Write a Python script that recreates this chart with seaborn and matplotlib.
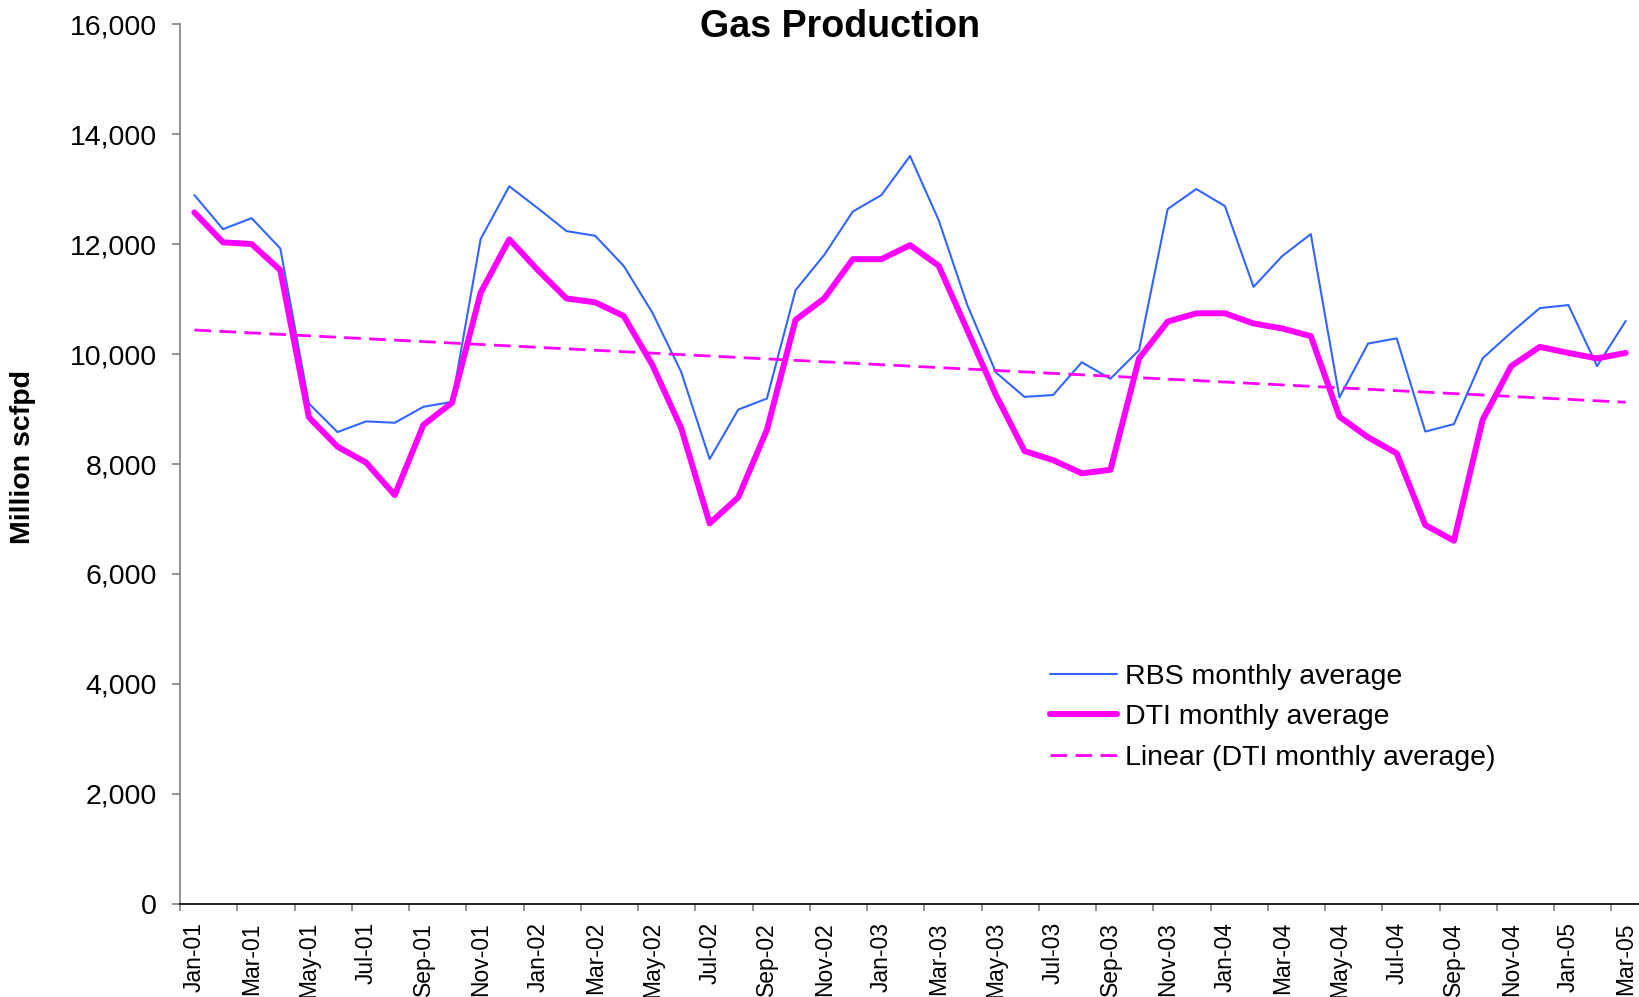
import numpy as np
import pandas as pd
import matplotlib
matplotlib.use("Agg")
import matplotlib.pyplot as plt
import seaborn as sns

# monthly data Jan-01 .. Mar-05
months = pd.date_range("2001-01-01", "2005-03-01", freq="MS")
month_labels = [d.strftime("%b-%y") for d in months]

rbs = [12890, 12270, 12470, 11920, 9100, 8580, 8775, 8750, 9040, 9130,
       12090, 13050, 12650, 12235, 12150, 11600, 10750, 9680, 8090, 8990,
       9190, 11160, 11800, 12590, 12890, 13600, 12435, 10890, 9665, 9220,
       9255, 9850, 9550, 10070, 12635, 13000, 12690, 11220, 11780, 12180,
       9210, 10190, 10285, 8590, 8725, 9920, 10390, 10835, 10890, 9780,
       10600]

dti = [12575, 12030, 12000, 11525, 8850, 8315, 8025, 7435, 8710, 9115,
       11115, 12085, 11525, 11010, 10940, 10690, 9800, 8660, 6920, 7395,
       8620, 10620, 11010, 11725, 11725, 11980, 11605, 10435, 9255, 8235,
       8070, 7830, 7895, 9920, 10590, 10740, 10740, 10555, 10465, 10325,
       8860, 8485, 8195, 6890, 6605, 8800, 9780, 10130, 10020, 9920,
       10020]

df = pd.DataFrame({"idx": np.arange(len(months)), "RBS": rbs, "DTI": dti})

sns.set_theme(style="white")
plt.rcParams["font.family"] = ["Liberation Sans", "DejaVu Sans"]
plt.rcParams["text.color"] = "black"
plt.rcParams["axes.labelcolor"] = "black"
plt.rcParams["xtick.color"] = "black"
plt.rcParams["ytick.color"] = "black"

fig = plt.figure(figsize=(16.4, 9.97), dpi=100)
ax = fig.add_axes([0.1098, 0.0933, 0.8902, 0.8826])

sns.lineplot(data=df, x="idx", y="RBS", ax=ax, color="#3366FF", lw=1.5,
             label="RBS monthly average")
sns.lineplot(data=df, x="idx", y="DTI", ax=ax, color="#FF00FF", lw=4.3,
             label="DTI monthly average", solid_capstyle="round",
             solid_joinstyle="round")
# Excel-style linear trendline of the DTI series
sns.regplot(data=df, x="idx", y="DTI", ax=ax, scatter=False, ci=None,
            truncate=True, label="Linear (DTI monthly average)",
            line_kws=dict(color="#FF00FF", lw=2, dashes=(6, 3)))

ax.set_xlim(-0.5, len(months) - 0.5)
ax.set_ylim(0, 16000)
ax.set_yticks(range(0, 16001, 2000))
ax.yaxis.set_major_formatter(matplotlib.ticker.StrMethodFormatter("{x:,.0f}"))
ax.tick_params(axis="y", labelsize=20.5, length=6, width=1.2, pad=10.5,
               left=True, labelcolor="black", color="#808080")

# category axis: tick marks between every other month, labels on the months
ax.set_xticks(np.arange(-0.5, len(months), 2))
ax.set_xticklabels([])
ax.set_xticks(np.arange(0, len(months), 2), minor=True)
ax.set_xticklabels(month_labels[::2], minor=True, rotation=90, fontsize=16.5)
ax.tick_params(axis="x", which="major", length=5, width=1.2, bottom=True,
               color="#808080")
ax.tick_params(axis="x", which="minor", length=0, pad=13, bottom=True)

ax.set_xlabel("")
ax.set_ylabel("")
for s in ["top", "right"]:
    ax.spines[s].set_visible(False)
ax.spines["left"].set_color("#808080")
ax.spines["left"].set_linewidth(1.2)
ax.spines["bottom"].set_color("black")
ax.spines["bottom"].set_linewidth(1.2)

fig.text(0.5122, 0.9725, "Gas Production", ha="center", va="center",
         fontsize=27.1, fontweight="bold")
fig.text(0.014, 0.5416, "Million scfpd", ha="center", va="center",
         rotation=90, fontsize=20.5, fontweight="bold")

ax.legend(loc="center left", bbox_to_anchor=(0.640, 0.2805),
          bbox_transform=fig.transFigure, frameon=False, fontsize=20.5,
          handlelength=2.35, handletextpad=0.3, labelspacing=0.5,
          borderpad=0, borderaxespad=0)

fig.savefig("out.png", dpi=100)
